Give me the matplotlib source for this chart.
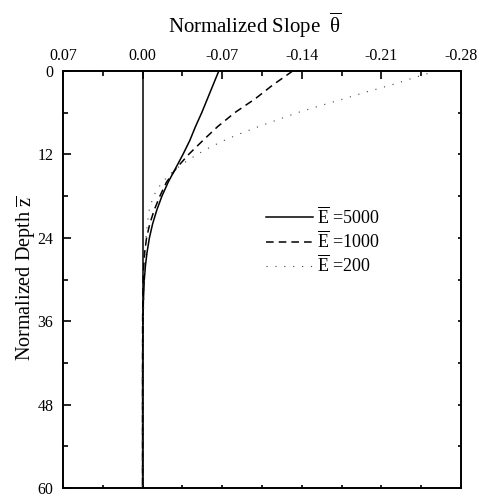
import numpy as np
import matplotlib
matplotlib.use('Agg')
import matplotlib.pyplot as plt
from matplotlib.ticker import MultipleLocator, FormatStrFormatter

plt.rcParams['font.family'] = 'Liberation Serif'
plt.rcParams['mathtext.fontset'] = 'custom'
plt.rcParams['mathtext.rm'] = 'Liberation Serif'
plt.rcParams['mathtext.it'] = 'Liberation Serif:italic'

# depth values and slopes
z_5000 = [0, 2, 4, 6, 8, 10, 12, 14, 16, 18, 20, 22, 24, 26, 28, 30, 33, 36, 40, 45, 60]
th_5000 = [-0.067, -0.062, -0.057, -0.052, -0.0465, -0.0415, -0.0355, -0.029, -0.0225,
           -0.017, -0.0125, -0.0088, -0.006, -0.004, -0.0025, -0.0015, -0.0007,
           -0.0003, -0.0001, 0.0, 0.0]

z_1000 = [0, 2, 4, 6, 8, 10, 12, 14, 16, 18, 20, 22, 24, 26, 28, 30, 33, 36, 60]
th_1000 = [-0.132, -0.1146, -0.099, -0.081, -0.066, -0.053, -0.0405, -0.0296, -0.021,
           -0.0152, -0.0102, -0.0063, -0.0035, -0.0019, -0.001, -0.0005, -0.0002,
           0.0, 0.0]

z_200 = [0, 1, 2, 3, 4, 5, 6, 7, 8, 9, 10, 11, 12, 13, 14, 15, 16, 17, 18, 20, 22,
         24, 27, 31, 35, 40, 45, 60]
th_200 = [-0.258, -0.238, -0.219, -0.197, -0.177, -0.156, -0.136, -0.119, -0.102,
          -0.086, -0.0715, -0.059, -0.048, -0.0385, -0.030, -0.023, -0.0175, -0.013,
          -0.0095, -0.0058, -0.0042, -0.003, -0.0019, -0.0015, -0.0008, -0.0002,
          0.0, 0.0]

labels = [r'$\overline{\mathrm{E}}$ =5000', r'$\overline{\mathrm{E}}$ =1000',
          r'$\overline{\mathrm{E}}$ =200']

fig = plt.figure(figsize=(4.78, 4.95), dpi=100)
ax = fig.add_axes([63/478, 1-488/495, 398/478, 417/495])

ax.axvline(0, color='black', lw=1.1)
ax.plot(th_5000, z_5000, color='black', lw=1.1, ls='-', label=labels[0])
ax.plot(th_1000, z_1000, color='black', lw=1.1, ls=(0, (5, 3.3)), label=labels[1])
ax.plot(th_200, z_200, color='0.25', lw=0.8, ls=(0, (1, 7)), label=labels[2])

ax.set_xlim(0.07, -0.28)
ax.set_ylim(60, 0)
ax.xaxis.set_major_locator(MultipleLocator(0.07))
ax.xaxis.set_minor_locator(MultipleLocator(0.035))
ax.xaxis.set_major_formatter(FormatStrFormatter('%.2f'))
ax.yaxis.set_major_locator(MultipleLocator(12))
ax.yaxis.set_minor_locator(MultipleLocator(6))

ax.tick_params(which='both', direction='in', top=True, right=True, bottom=True, left=True,
               labeltop=True, labelbottom=False, labelsize=11.5, width=1.2)
ax.tick_params(axis='x', which='both', pad=5)
ax.tick_params(axis='y', which='both', pad=7)
ax.tick_params(which='major', length=6)
ax.tick_params(which='minor', length=3.5)

# faint short ticks on right and bottom edges
for t in ax.xaxis.get_major_ticks() + ax.xaxis.get_minor_ticks():
    t.tick1line.set_color('0.6')
    t.tick1line.set_markersize(2.5)
for t in ax.yaxis.get_major_ticks() + ax.yaxis.get_minor_ticks():
    t.tick2line.set_color('0.6')
    t.tick2line.set_markersize(2.5)

for s in ax.spines.values():
    s.set_linewidth(1.4)

ax.xaxis.set_label_position('top')
ax.set_xlabel(r'Normalized Slope  $\overline{\mathrm{\theta}}$', fontsize=15)
ax.xaxis.set_label_coords((255-63)/398, 1 + (71-33)/417)
ax.set_ylabel(r'Normalized Depth $\overline{\mathrm{z}}$', fontsize=14.5)
ax.yaxis.set_label_coords((38-63)/398, 1 - (278-71)/417)

ax.legend(loc='center left', bbox_to_anchor=(0.51, 0.592), frameon=False, fontsize=13,
          handlelength=2.6, handletextpad=0.25, labelspacing=0.15,
          borderpad=0, borderaxespad=0)

fig.savefig('out.png', dpi=100, facecolor='white')
